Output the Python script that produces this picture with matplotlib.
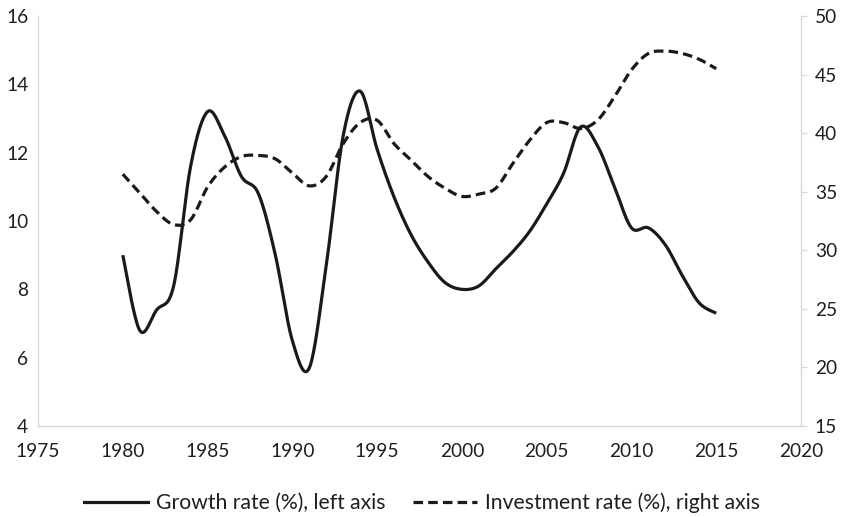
import numpy as np
import matplotlib
matplotlib.use("Agg")
import matplotlib.pyplot as plt
from matplotlib.lines import Line2D

plt.rcParams['font.family'] = ['Lato', 'DejaVu Sans']

years = list(range(1980, 2016))
growth = [9.0, 6.8, 7.4, 8.1, 11.6, 13.2, 12.5, 11.3, 10.8, 9.0, 6.5, 5.7,
          8.7, 12.5, 13.8, 12.1, 10.7, 9.6, 8.8, 8.2, 8.0, 8.1, 8.6, 9.1,
          9.7, 10.5, 11.4, 12.75, 12.2, 11.0, 9.8, 9.8, 9.3, 8.4, 7.6, 7.3]
investment = [36.5, 34.9, 33.3, 32.2, 32.6, 35.4, 37.1, 38.0, 38.1, 37.8, 36.6, 35.5,
              36.3, 39.1, 40.9, 41.1, 39.1, 37.7, 36.3, 35.3, 34.6, 34.8, 35.3, 37.4,
              39.4, 40.9, 40.9, 40.4, 41.1, 43.1, 45.4, 46.8, 47.0, 46.8, 46.3, 45.5]
labels = ["Growth rate (%), left axis", "Investment rate (%), right axis"]


def smooth(x, y, n=20):
    """Catmull-Rom style smoothing (like spreadsheet 'smoothed line')."""
    x = np.asarray(x, float)
    y = np.asarray(y, float)
    px = np.concatenate([[x[0]], x, [x[-1]]])
    py = np.concatenate([[y[0]], y, [y[-1]]])
    xs, ys = [], []
    t = np.linspace(0, 1, n, endpoint=False)
    for i in range(1, len(px) - 2):
        p0x, p1x, p2x, p3x = px[i - 1:i + 3]
        p0y, p1y, p2y, p3y = py[i - 1:i + 3]
        c1x, c1y = p1x + (p2x - p0x) / 6, p1y + (p2y - p0y) / 6
        c2x, c2y = p2x - (p3x - p1x) / 6, p2y - (p3y - p1y) / 6
        b0 = (1 - t) ** 3
        b1 = 3 * (1 - t) ** 2 * t
        b2 = 3 * (1 - t) * t ** 2
        b3 = t ** 3
        xs.append(b0 * p1x + b1 * c1x + b2 * c2x + b3 * p2x)
        ys.append(b0 * p1y + b1 * c1y + b2 * c2y + b3 * p2y)
    xs.append([x[-1]])
    ys.append([y[-1]])
    return np.concatenate(xs), np.concatenate(ys)


fig = plt.figure(figsize=(8.44, 5.17), dpi=100)
ax = fig.add_axes([38 / 844, 1 - 426 / 517, (801 - 38) / 844, (426 - 16) / 517])
ax2 = ax.twinx()

col = '#1a1a1a'
spine_col = '#d9d9d9'
txt_col = '#1f1f1f'
fs = 13.8
lfs = 15.2

gx, gy = smooth(years, growth)
ax.plot(gx, gy, color=col, lw=2.3, solid_capstyle='butt')
ix, iy = smooth(years, investment)
ax2.plot(ix, iy, color=col, lw=2.3, dashes=(3.0, 1.6), dash_capstyle='butt')

ax.set_xlim(1975, 2020)
ax.set_ylim(4, 16)
ax2.set_ylim(15, 50)
ax.set_xticks(range(1975, 2021, 5))
ax.set_yticks(range(4, 17, 2))
ax2.set_yticks(range(15, 51, 5))

for a in (ax, ax2):
    for s in a.spines.values():
        s.set_color(spine_col)
        s.set_linewidth(0.9)
    a.spines['top'].set_visible(False)

ax.tick_params(axis='x', length=0, pad=12.5, labelsize=fs, labelcolor=txt_col)
ax.tick_params(axis='y', length=0, pad=7.0, labelsize=fs, labelcolor=txt_col)
ax2.tick_params(axis='y', length=4, width=0.9, color=spine_col, pad=6,
                labelsize=fs, labelcolor=txt_col)

handles = [Line2D([], [], color=col, lw=2.3),
           Line2D([], [], color=col, lw=2.3, dashes=(3.0, 1.6))]
fig.legend(handles, labels, loc='center', bbox_to_anchor=(0.5, 1 - 503 / 517),
           ncol=2, frameon=False, fontsize=lfs, handlelength=3.0,
           handletextpad=0.38, columnspacing=1.33, labelcolor=txt_col)

fig.savefig('out.png', dpi=100)
